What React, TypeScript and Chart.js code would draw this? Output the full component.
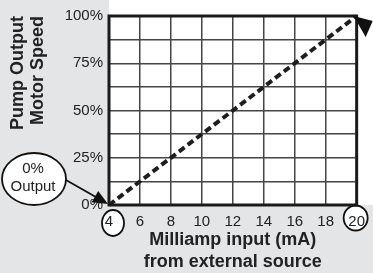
import React, { useEffect, useRef } from 'react';
import { Chart, registerables } from 'chart.js';

Chart.register(...registerables);

// ---- data ----
const milliamps = [4, 20];
const outputPercent = [0, 100];
const xTickValues = [4, 6, 8, 10, 12, 14, 16, 18, 20];
const yLabelValues = [0, 25, 50, 75, 100];
const xTitle = ['Milliamp input (mA)', 'from external source'];
const yTitle = ['Pump Output', 'Motor Speed'];
const calloutText = ['0%', 'Output'];

const FAMILY = "'Liberation Sans', Arial, Helvetica, sans-serif";
const INK = '#222222';

function ellipse(ctx: CanvasRenderingContext2D, cx: number, cy: number, rx: number, ry: number) {
  ctx.beginPath();
  ctx.ellipse(cx, cy, rx, ry, 0, 0, Math.PI * 2);
  ctx.fillStyle = '#ffffff';
  ctx.fill();
  ctx.lineWidth = 1.8;
  ctx.strokeStyle = '#111111';
  ctx.stroke();
}

const decor = {
  id: 'decor',
  beforeDraw(chart: any) {
    const { ctx, chartArea: ca, width, height, scales } = chart;
    ctx.save();
    ctx.fillStyle = '#e4e5e7';
    ctx.fillRect(0, 0, width, height);
    ctx.fillStyle = '#ffffff';
    ctx.fillRect(ca.left, 0, width - ca.left, ca.bottom);
    const xs = scales.x;
    const first = xs.getPixelForValue(xTickValues[0]);
    const last = xs.getPixelForValue(xTickValues[xTickValues.length - 1]);
    ellipse(ctx, first + 4, ca.bottom + 18, 11, 13);
    ellipse(ctx, last - 1, ca.bottom + 13, 12, 12.5);
    ctx.restore();
  },
  afterDraw(chart: any) {
    const { ctx, chartArea: ca, scales } = chart;
    ctx.save();
    // frame
    ctx.lineWidth = 3;
    ctx.strokeStyle = '#1a1a1a';
    ctx.strokeRect(ca.left, ca.top, ca.right - ca.left, ca.bottom - ca.top);

    // arrowhead at top right (cropped)
    const tx = scales.x.getPixelForValue(milliamps[1]);
    const ty = scales.y.getPixelForValue(outputPercent[1]);
    ctx.beginPath();
    ctx.moveTo(tx - 3, ty);
    ctx.lineTo(tx + 16, ty + 5);
    ctx.lineTo(tx + 9, ty + 21);
    ctx.closePath();
    ctx.fillStyle = '#111111';
    ctx.fill();

    // callout
    const ox = scales.x.getPixelForValue(milliamps[0]);
    const oy = scales.y.getPixelForValue(outputPercent[0]);
    const cx = ox - 75;
    const cy = oy - 26;
    ellipse(ctx, cx, cy, 32, 26);
    ctx.fillStyle = INK;
    ctx.font = `15px ${FAMILY}`;
    ctx.textAlign = 'center';
    ctx.textBaseline = 'middle';
    ctx.fillText(calloutText[0], cx - 1, cy - 10);
    ctx.fillText(calloutText[1], cx - 1, cy + 8);

    // arrow from callout to origin
    const sx = cx + 32;
    const sy = cy + 1;
    const ex = ox - 1;
    const ey = oy - 1;
    const dx = ex - sx;
    const dy = ey - sy;
    const len = Math.hypot(dx, dy);
    const ux = dx / len;
    const uy = dy / len;
    ctx.beginPath();
    ctx.moveTo(sx, sy);
    ctx.lineTo(ex - ux * 10, ey - uy * 10);
    ctx.lineWidth = 1.8;
    ctx.strokeStyle = '#111111';
    ctx.stroke();
    const bx = ex - ux * 15;
    const by = ey - uy * 15;
    ctx.beginPath();
    ctx.moveTo(ex, ey);
    ctx.lineTo(bx - uy * 6.5, by + ux * 6.5);
    ctx.lineTo(bx + uy * 6.5, by - ux * 6.5);
    ctx.closePath();
    ctx.fillStyle = '#111111';
    ctx.fill();
    ctx.restore();
  },
};

export default function App() {
  const ref = useRef<HTMLCanvasElement | null>(null);

  useEffect(() => {
    document.body.style.margin = '0';
    const canvas = ref.current;
    if (!canvas) return;
    const chart = new Chart(canvas, {
      type: 'line',
      data: {
        datasets: [
          {
            data: milliamps.map((x, i) => ({ x, y: outputPercent[i] })),
            borderColor: '#1e1e1e',
            borderWidth: 4,
            borderDash: [7, 4],
            pointRadius: 0,
            tension: 0,
            clip: false as any,
          },
        ],
      },
      options: {
        responsive: false,
        animation: false,
        devicePixelRatio: 1,
        layout: { padding: { top: 16, right: 10, left: 0, bottom: 0 } },
        plugins: { legend: { display: false }, tooltip: { enabled: false } },
        scales: {
          x: {
            type: 'linear',
            min: 4,
            max: 20,
            afterFit: (s: any) => {
              s.height = 68;
            },
            afterBuildTicks: (s: any) => {
              s.ticks = xTickValues.map((v) => ({ value: v }));
            },
            ticks: {
              autoSkip: false,
              maxRotation: 0,
              padding: 8,
              color: INK,
              font: { size: 15, family: FAMILY },
            },
            grid: { color: '#454545', lineWidth: 1.5, drawTicks: false },
            border: { display: false },
            title: {
              display: true,
              text: xTitle,
              color: INK,
              font: { size: 18, weight: 'bold', family: FAMILY, lineHeight: 1.22 },
              padding: { top: 0, bottom: 0 },
            },
          },
          y: {
            type: 'linear',
            min: 0,
            max: 100,
            afterFit: (s: any) => {
              s.width = 109;
            },
            ticks: {
              stepSize: 12.5,
              autoSkip: false,
              padding: 6,
              color: INK,
              font: { size: 15, family: FAMILY },
              callback: (v: any) => (yLabelValues.includes(Number(v)) ? `${v}%` : ''),
            },
            grid: { color: '#454545', lineWidth: 1.5, drawTicks: false },
            border: { display: false },
            title: {
              display: true,
              text: yTitle,
              align: 'end',
              color: INK,
              font: { size: 18, weight: 'bold', family: FAMILY, lineHeight: 1.1 },
              padding: { top: 8, bottom: 0 },
            },
          },
        },
      },
      plugins: [decor],
    } as any);
    return () => chart.destroy();
  }, []);

  return (
    <div style={{ position: 'fixed', left: 0, top: 0, width: 373, height: 273 }}>
      <canvas ref={ref} width={373} height={273} style={{ width: 373, height: 273, display: 'block' }} />
    </div>
  );
}
